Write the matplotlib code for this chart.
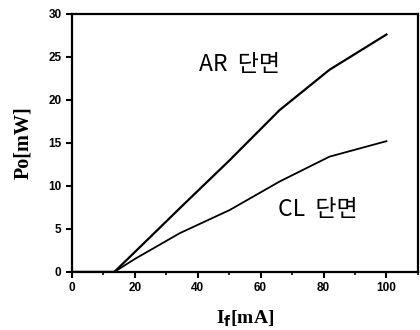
import numpy as np
import matplotlib
matplotlib.use('Agg')
import matplotlib.pyplot as plt
from matplotlib.ticker import MultipleLocator

# current [mA] and output power [mW]
current = [0, 13.5, 20, 34.3, 50.2, 66, 81.9, 100]
power_ar = [0, 0, 2.3, 7.4, 13.0, 18.8, 23.5, 27.6]
power_cl = [0, 0, 1.5, 4.5, 7.2, 10.5, 13.4, 15.2]

plt.rcParams['font.family'] = ['Noto Sans CJK KR', 'DejaVu Sans']

fig = plt.figure(figsize=(4.2, 3.3), dpi=100)
ax = fig.add_axes([0.171, 0.176, 0.824, 0.782])

ax.plot(current, power_ar, color='black', lw=1.6)
ax.plot(current, power_cl, color='black', lw=1.3)

ax.set_xlim(0, 110)
ax.set_ylim(0, 30)
ax.xaxis.set_major_locator(MultipleLocator(20))
ax.xaxis.set_minor_locator(MultipleLocator(10))
ax.yaxis.set_major_locator(MultipleLocator(5))
ax.tick_params(which='major', direction='out', length=4, width=1.5,
               labelsize=8.5)
ax.tick_params(which='minor', direction='out', length=2, width=1.2)
for lab in ax.get_xticklabels() + ax.get_yticklabels():
    lab.set_fontweight('bold')
    lab.set_family('Liberation Sans')
for sp in ax.spines.values():
    sp.set_linewidth(1.6)

ax.text(53.4, 24.1, 'AR  단면', fontsize=16.5, ha='center', va='center',
        fontweight='light')
ax.text(78.2, 7.2, 'CL  단면', fontsize=16.5, ha='center', va='center',
        fontweight='light')

ax.set_ylabel('Po[mW]', fontsize=14.5, fontweight='bold',
              family='Liberation Serif', labelpad=11)
ax.set_xlabel(r'I$_\mathbf{f}$[mA]', fontsize=14, fontweight='bold',
              family='Liberation Serif', labelpad=10)

fig.savefig('out.png', dpi=100)
